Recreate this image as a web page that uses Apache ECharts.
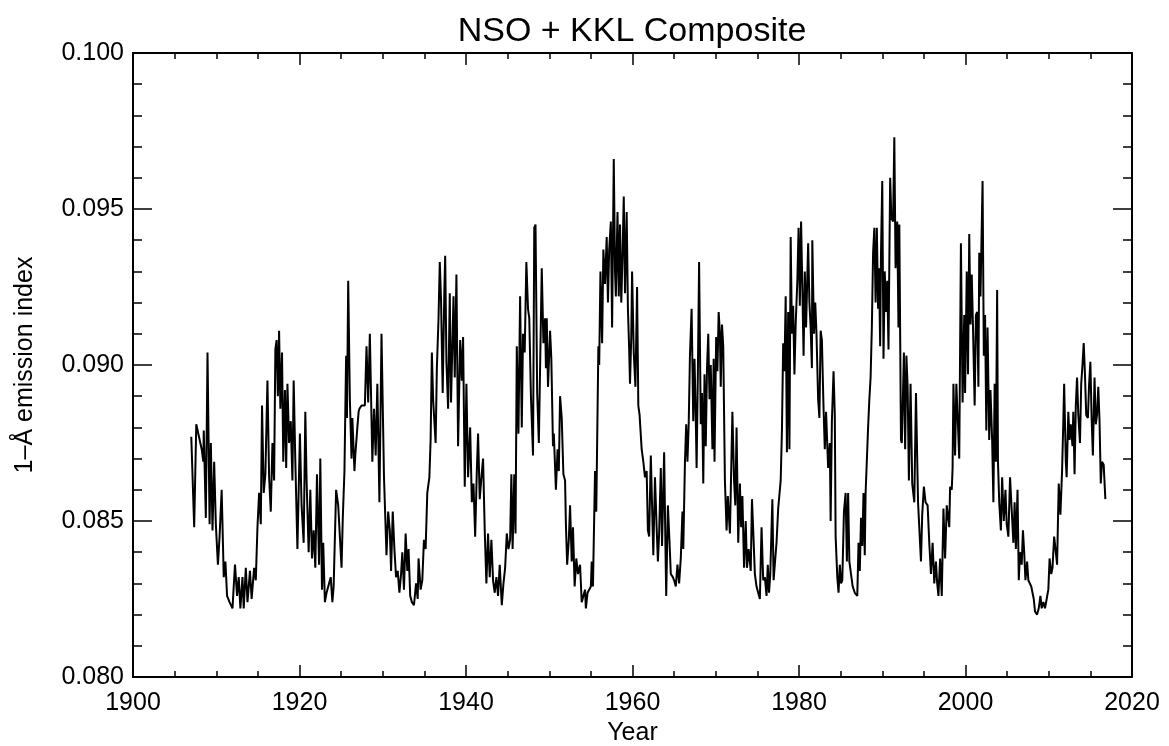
<!DOCTYPE html>
<html>
<head>
<meta charset="utf-8">
<script src="https://cdn.jsdelivr.net/npm/echarts@6/dist/echarts.min.js"></script>
<style>html,body{margin:0;padding:0;background:#fff}#c{width:1169px;height:746px}</style>
</head>
<body>
<div id="c"></div>
<script>
// Data: [year, 1-Å emission index]
const cycle15 = [[1907.0,0.0877],[1907.35,0.0848],[1907.6,0.0881],[1907.8,0.0881],[1908.25,0.0873],[1908.45,0.0869],[1908.5,0.0879],[1908.75,0.0851],[1908.95,0.0904],[1909.2,0.0849],[1909.35,0.0875],[1909.55,0.0847],[1909.75,0.0869],[1909.95,0.0849],[1910.2,0.0836],[1910.4,0.0845],[1910.65,0.0860],[1910.9,0.0832],[1911.1,0.0837],[1911.3,0.0826],[1911.6,0.0824],[1911.95,0.0822],[1912.25,0.0836],[1912.5,0.0826],[1912.7,0.0832],[1912.9,0.0822],[1913.15,0.0832],[1913.3,0.0822],[1913.55,0.0835],[1913.75,0.0824],[1914.05,0.0834],[1914.25,0.0825],[1914.55,0.0835],[1914.75,0.0831],[1914.95,0.0848],[1915.15,0.0859],[1915.35,0.0849],[1915.5,0.0887],[1915.7,0.0859],[1915.9,0.0865],[1916.15,0.0895],[1916.35,0.0864],[1916.55,0.0853],[1916.75,0.0875],[1916.95,0.0863],[1917.1,0.0905],[1917.25,0.0908],[1917.4,0.0890],[1917.55,0.0911],[1917.7,0.0886],[1917.9,0.0904],[1918.05,0.0869],[1918.25,0.0892],[1918.4,0.0867],[1918.55,0.0894],[1918.75,0.0875],[1918.95,0.0882],[1919.15,0.0863],[1919.3,0.0895],[1919.5,0.0869],[1919.75,0.0841],[1920.05,0.0878],[1920.25,0.0855],[1920.5,0.0843],[1920.7,0.0885],[1920.85,0.0863],[1921.1,0.0840],[1921.3,0.0860],[1921.5,0.0838],[1921.7,0.0847],[1921.9,0.0835],[1922.1,0.0865],[1922.35,0.0836],[1922.5,0.0870],[1922.7,0.0828],[1922.85,0.0843],[1923.05,0.0824],[1923.25,0.0827],[1923.55,0.0830],[1923.75,0.0832],[1923.95,0.0824],[1924.1,0.0829],[1924.4,0.0860],[1924.65,0.0855],[1925.05,0.0835],[1925.2,0.0851],[1925.4,0.0866],[1925.6,0.0903],[1925.7,0.0883]];
const cycle16 = [[1925.85,0.0927],[1926.05,0.0889],[1926.25,0.0870],[1926.35,0.0883],[1926.6,0.0866],[1926.7,0.0871],[1926.95,0.0880],[1927.1,0.0885],[1927.2,0.0886],[1927.45,0.0887],[1927.85,0.0887],[1928.05,0.0906],[1928.25,0.0888],[1928.45,0.0910],[1928.75,0.0869],[1928.95,0.0886],[1929.15,0.0871],[1929.35,0.0894],[1929.6,0.0856],[1929.85,0.0910],[1930.15,0.0864],[1930.45,0.0839],[1930.65,0.0853],[1930.85,0.0847],[1931.0,0.0834],[1931.2,0.0853],[1931.4,0.0841],[1931.6,0.0832],[1931.8,0.0834],[1932.0,0.0827],[1932.2,0.0833],[1932.35,0.0840],[1932.55,0.0828],[1932.75,0.0846],[1932.95,0.0834],[1933.1,0.0841],[1933.3,0.0826],[1933.5,0.0824],[1933.75,0.0823],[1934.0,0.0830],[1934.2,0.0825],[1934.3,0.0838],[1934.55,0.0828],[1934.75,0.0831],[1934.95,0.0844],[1935.15,0.0841],[1935.35,0.0859],[1935.6,0.0864],[1935.75,0.0876]];
const cycle17 = [[1935.9,0.0904],[1936.05,0.0889],[1936.25,0.0889],[1936.35,0.0875],[1936.5,0.0899],[1936.7,0.0915],[1936.85,0.0933],[1937.0,0.0921],[1937.2,0.0891],[1937.4,0.0924],[1937.5,0.0935],[1937.65,0.0901],[1937.85,0.0886],[1938.05,0.0923],[1938.2,0.0888],[1938.5,0.0922],[1938.65,0.0896],[1938.85,0.0929],[1939.05,0.0874],[1939.3,0.0908],[1939.5,0.0895],[1939.65,0.0909],[1939.85,0.0861],[1940.05,0.0894],[1940.25,0.0864],[1940.5,0.0880],[1940.7,0.0856],[1940.9,0.0862],[1941.1,0.0845],[1941.3,0.0866],[1941.45,0.0878],[1941.65,0.0857],[1941.85,0.0864],[1942.05,0.0870],[1942.25,0.0847],[1942.45,0.0830],[1942.65,0.0846],[1942.85,0.0832],[1943.05,0.0844],[1943.25,0.0831],[1943.45,0.0827],[1943.65,0.0832],[1943.85,0.0826],[1944.05,0.0836],[1944.3,0.0823],[1944.5,0.0830],[1944.7,0.0835],[1944.9,0.0846],[1945.1,0.0841],[1945.3,0.0844],[1945.45,0.0865],[1945.6,0.0841],[1945.8,0.0865],[1945.95,0.0846]];
const cycle18 = [[1946.1,0.0906],[1946.3,0.0878],[1946.5,0.0922],[1946.7,0.0880],[1946.85,0.0910],[1947.05,0.0904],[1947.25,0.0933],[1947.45,0.0918],[1947.6,0.0915],[1947.8,0.0890],[1948.05,0.0871],[1948.2,0.0944],[1948.35,0.0945],[1948.55,0.0891],[1948.75,0.0875],[1949.1,0.0931],[1949.3,0.0907],[1949.5,0.0915],[1949.6,0.0899],[1949.7,0.0915],[1949.85,0.0893],[1950.1,0.0911],[1950.25,0.0902],[1950.45,0.0874],[1950.55,0.0878],[1950.8,0.0860],[1951.0,0.0873],[1951.15,0.0866],[1951.3,0.0890],[1951.5,0.0883],[1951.7,0.0865],[1951.9,0.0863],[1952.0,0.0849],[1952.15,0.0836],[1952.35,0.0844],[1952.5,0.0855],[1952.7,0.0837],[1952.85,0.0848],[1953.05,0.0829],[1953.25,0.0838],[1953.45,0.0833],[1953.7,0.0836],[1953.9,0.0824],[1954.1,0.0824],[1954.3,0.0828],[1954.4,0.0822],[1954.6,0.0827],[1954.8,0.0827],[1955.0,0.0829],[1955.1,0.0837],[1955.25,0.0829],[1955.5,0.0866],[1955.65,0.0853]];
const cycle19 = [[1955.9,0.0906],[1956.0,0.0900],[1956.15,0.0930],[1956.35,0.0907],[1956.5,0.0937],[1956.7,0.0926],[1956.9,0.0941],[1957.05,0.0920],[1957.2,0.0937],[1957.4,0.0946],[1957.55,0.0912],[1957.75,0.0966],[1957.9,0.0930],[1958.0,0.0922],[1958.2,0.0949],[1958.35,0.0922],[1958.5,0.0945],[1958.65,0.0920],[1958.8,0.0935],[1958.95,0.0954],[1959.1,0.0923],[1959.3,0.0949],[1959.45,0.0918],[1959.6,0.0905],[1959.7,0.0894],[1959.85,0.0909],[1959.95,0.0930],[1960.15,0.0904],[1960.35,0.0893],[1960.55,0.0925],[1960.7,0.0887],[1960.85,0.0884],[1961.1,0.0873],[1961.3,0.0869],[1961.5,0.0864],[1961.7,0.0866],[1961.85,0.0847],[1962.0,0.0845],[1962.2,0.0871],[1962.35,0.0855],[1962.5,0.0839],[1962.7,0.0864],[1962.9,0.0848],[1963.05,0.0837],[1963.2,0.0846],[1963.4,0.0867],[1963.55,0.0842],[1963.8,0.0872],[1963.95,0.0843],[1964.05,0.0826],[1964.25,0.0855],[1964.45,0.0843],[1964.6,0.0833],[1964.85,0.0832],[1965.0,0.0831],[1965.2,0.0829],[1965.4,0.0836],[1965.6,0.0830],[1965.8,0.0838],[1966.0,0.0853],[1966.1,0.0841]];
const cycle20 = [[1966.3,0.0869],[1966.45,0.0881],[1966.6,0.0869],[1966.75,0.0881],[1966.9,0.0903],[1967.1,0.0918],[1967.3,0.0882],[1967.45,0.0902],[1967.6,0.0883],[1967.7,0.0867],[1967.85,0.0897],[1968.0,0.0933],[1968.2,0.0881],[1968.35,0.0891],[1968.5,0.0862],[1968.65,0.0897],[1968.8,0.0874],[1968.95,0.0899],[1969.1,0.0910],[1969.25,0.0889],[1969.4,0.0900],[1969.6,0.0873],[1969.75,0.0902],[1969.85,0.0869],[1970.05,0.0909],[1970.2,0.0898],[1970.35,0.0917],[1970.5,0.0910],[1970.6,0.0893],[1970.75,0.0913],[1970.9,0.0906],[1971.1,0.0863],[1971.3,0.0847],[1971.45,0.0858],[1971.7,0.0846],[1971.9,0.0872],[1972.0,0.0885],[1972.2,0.0863],[1972.35,0.0855],[1972.5,0.0880],[1972.7,0.0843],[1972.9,0.0862],[1973.05,0.0848],[1973.2,0.0858],[1973.4,0.0835],[1973.6,0.0850],[1973.75,0.0835],[1973.95,0.0841],[1974.2,0.0834],[1974.35,0.0857],[1974.5,0.0847],[1974.7,0.0833],[1974.9,0.0829],[1975.1,0.0827],[1975.3,0.0825],[1975.5,0.0848],[1975.7,0.0831],[1975.9,0.0832],[1976.1,0.0826],[1976.25,0.0836],[1976.4,0.0827],[1976.55,0.0833],[1976.8,0.0857],[1976.95,0.0831],[1977.15,0.0838],[1977.3,0.0843],[1977.5,0.0854],[1977.65,0.0854],[1977.8,0.0863],[1977.95,0.0879]];
const cycle21 = [[1978.1,0.0907],[1978.25,0.0898],[1978.4,0.0922],[1978.55,0.0872],[1978.7,0.0917],[1978.85,0.0873],[1979.0,0.0941],[1979.15,0.0910],[1979.3,0.0919],[1979.45,0.0897],[1979.6,0.0913],[1979.8,0.0927],[1979.95,0.0944],[1980.1,0.0919],[1980.25,0.0946],[1980.4,0.0925],[1980.55,0.0903],[1980.7,0.0930],[1980.85,0.0912],[1981.1,0.0939],[1981.25,0.0920],[1981.4,0.0912],[1981.55,0.0899],[1981.6,0.0940],[1981.8,0.0910],[1981.95,0.0920],[1982.1,0.0910],[1982.3,0.0889],[1982.45,0.0883],[1982.6,0.0911],[1982.75,0.0908],[1982.95,0.0886],[1983.1,0.0873],[1983.25,0.0885],[1983.5,0.0867],[1983.7,0.0875],[1983.8,0.0850],[1983.95,0.0882],[1984.15,0.0898],[1984.3,0.0884],[1984.4,0.0845],[1984.6,0.0832],[1984.75,0.0827],[1984.9,0.0836],[1985.05,0.0830],[1985.2,0.0831],[1985.4,0.0853],[1985.6,0.0859],[1985.75,0.0837],[1985.9,0.0859],[1986.05,0.0837],[1986.25,0.0833],[1986.45,0.0829],[1986.7,0.0827],[1987.0,0.0826],[1987.15,0.0843],[1987.3,0.0834],[1987.45,0.0851],[1987.6,0.0842],[1987.75,0.0859],[1987.9,0.0839],[1988.0,0.0859]];
const cycle22 = [[1988.3,0.0880],[1988.45,0.0889],[1988.6,0.0896],[1988.75,0.0912],[1988.9,0.0936],[1989.05,0.0944],[1989.2,0.0920],[1989.35,0.0944],[1989.5,0.0918],[1989.6,0.0931],[1989.75,0.0906],[1989.85,0.0936],[1990.0,0.0959],[1990.15,0.0902],[1990.3,0.0930],[1990.45,0.0917],[1990.6,0.0927],[1990.75,0.0905],[1990.95,0.0960],[1991.1,0.0947],[1991.3,0.0946],[1991.45,0.0973],[1991.6,0.0931],[1991.8,0.0946],[1991.95,0.0912],[1992.05,0.0945],[1992.25,0.0876],[1992.35,0.0875],[1992.45,0.0886],[1992.6,0.0904],[1992.75,0.0873],[1992.9,0.0903],[1993.05,0.0893],[1993.2,0.0863],[1993.4,0.0894],[1993.6,0.0862],[1993.85,0.0856],[1994.05,0.0891],[1994.3,0.0856],[1994.5,0.0856],[1994.65,0.0837],[1994.8,0.0852],[1995.0,0.0861],[1995.2,0.0856],[1995.45,0.0855],[1995.65,0.0843],[1995.85,0.0833],[1996.05,0.0843],[1996.25,0.0830],[1996.45,0.0837],[1996.6,0.0830],[1996.75,0.0826],[1996.95,0.0838],[1997.15,0.0826],[1997.35,0.0854],[1997.55,0.0838],[1997.75,0.0855],[1997.95,0.0855],[1998.05,0.0848],[1998.15,0.0861],[1998.35,0.0860],[1998.45,0.0867]];
const cycle23 = [[1998.55,0.0894],[1998.75,0.0871],[1998.9,0.0894],[1999.1,0.0894],[1999.25,0.0870],[1999.45,0.0939],[1999.65,0.0888],[1999.85,0.0916],[1999.95,0.0891],[2000.15,0.0930],[2000.3,0.0897],[2000.45,0.0942],[2000.6,0.0913],[2000.75,0.0929],[2000.9,0.0912],[2001.1,0.0887],[2001.25,0.0916],[2001.4,0.0917],[2001.55,0.0893],[2001.65,0.0936],[2001.8,0.0922],[2002.05,0.0959],[2002.2,0.0903],[2002.35,0.0916],[2002.5,0.0879],[2002.65,0.0912],[2002.85,0.0876],[2003.0,0.0892],[2003.2,0.0876],[2003.35,0.0856],[2003.5,0.0894],[2003.65,0.0869],[2003.8,0.0924],[2003.9,0.0869],[2004.05,0.0856],[2004.25,0.0847],[2004.4,0.0864],[2004.6,0.0850],[2004.8,0.0860],[2004.95,0.0849],[2005.15,0.0845],[2005.35,0.0864],[2005.55,0.0864],[2005.75,0.0843],[2005.9,0.0856],[2006.05,0.0841],[2006.25,0.0860],[2006.4,0.0831],[2006.55,0.0840],[2006.75,0.0836],[2006.9,0.0847],[2007.05,0.0840],[2007.2,0.0831],[2007.4,0.0837],[2007.55,0.0831],[2007.75,0.0831],[2007.9,0.0829],[2008.05,0.0827],[2008.2,0.0825],[2008.35,0.0821],[2008.6,0.0820],[2008.8,0.0822],[2009.0,0.0826],[2009.15,0.0822],[2009.35,0.0824],[2009.55,0.0822],[2009.75,0.0825],[2009.95,0.0828]];
const cycle24 = [[2010.1,0.0838],[2010.3,0.0833],[2010.45,0.0835],[2010.65,0.0845],[2010.85,0.0840],[2011.0,0.0836],[2011.2,0.0862],[2011.4,0.0852],[2011.6,0.0866],[2011.75,0.0882],[2011.85,0.0894],[2012.05,0.0869],[2012.15,0.0864],[2012.35,0.0885],[2012.5,0.0876],[2012.65,0.0881],[2012.85,0.0874],[2012.95,0.0885],[2013.1,0.0865],[2013.25,0.0887],[2013.4,0.0896],[2013.55,0.0884],[2013.75,0.0875],[2013.9,0.0894],[2014.05,0.0900],[2014.2,0.0907],[2014.35,0.0897],[2014.5,0.0884],[2014.7,0.0883],[2014.85,0.0894],[2015.0,0.0901],[2015.15,0.0883],[2015.3,0.0871],[2015.5,0.0896],[2015.65,0.0881],[2015.8,0.0884],[2015.95,0.0893],[2016.1,0.0882],[2016.25,0.0862],[2016.4,0.0869],[2016.6,0.0868],[2016.8,0.0857]];

const xTicks = { min: 1900, max: 2020, interval: 20 };
const yTicks = { min: 0.080, max: 0.100, interval: 0.005 };
const titleText = 'NSO + KKL Composite';
const xName = 'Year';
const yName = '1\u2013\u00C5 emission index';

const series = [].concat(cycle15, cycle16, cycle17, cycle18, cycle19, cycle20, cycle21, cycle22, cycle23, cycle24);

const FONT = '"Liberation Sans", Arial, Helvetica, sans-serif';
const chart = echarts.init(document.getElementById('c'), null, { renderer: 'canvas' });

function xAxisDef(pos, showLabels) {
  return {
    type: 'value', position: pos, min: xTicks.min, max: xTicks.max, interval: xTicks.interval,
    name: showLabels ? xName : '', nameLocation: 'middle', nameGap: 43,
    nameTextStyle: { fontFamily: FONT, fontSize: 25, color: '#000' },
    axisLine: { show: true, onZero: false, lineStyle: { color: '#000', width: 2 } },
    axisTick: { show: true, inside: true, length: 12, lineStyle: { color: '#000', width: 1.5 } },
    minorTick: { show: true, splitNumber: 4, length: 6, lineStyle: { color: '#000', width: 1.5 } },
    splitLine: { show: false }, minorSplitLine: { show: false },
    axisLabel: { show: showLabels, fontFamily: FONT, fontSize: 25, color: '#000', margin: 14,
      formatter: v => String(Math.round(v)) }
  };
}
function yAxisDef(pos, showLabels) {
  return {
    type: 'value', position: pos, min: yTicks.min, max: yTicks.max, interval: yTicks.interval,
    name: showLabels ? yName : '', nameLocation: 'middle', nameGap: 95, nameRotate: 90,
    nameTextStyle: { fontFamily: FONT, fontSize: 25, color: '#000' },
    axisLine: { show: true, onZero: false, lineStyle: { color: '#000', width: 2 } },
    axisTick: { show: true, inside: true, length: 19, lineStyle: { color: '#000', width: 1.5 } },
    minorTick: { show: true, splitNumber: 5, length: 9, lineStyle: { color: '#000', width: 1.5 } },
    splitLine: { show: false }, minorSplitLine: { show: false },
    axisLabel: { show: showLabels, fontFamily: FONT, fontSize: 25, color: '#000', margin: 9,
      formatter: v => v.toFixed(3) }
  };
}

chart.setOption({
  animation: false,
  backgroundColor: '#fff',
  grid: { left: 133, right: 37, top: 53, bottom: 69, containLabel: false, outerBoundsMode: 'none' },
  graphic: [{
    type: 'text', x: 632, y: 15,
    style: { text: titleText, font: '34px ' + FONT, fill: '#000', textAlign: 'center', textVerticalAlign: 'top' }
  }],
  xAxis: [xAxisDef('bottom', true), xAxisDef('top', false)],
  yAxis: [yAxisDef('left', true), yAxisDef('right', false)],
  series: [{
    type: 'line', data: series, xAxisIndex: 0, yAxisIndex: 0,
    showSymbol: false, symbol: 'none',
    lineStyle: { color: '#000', width: 2 }, silent: true
  }]
});
</script>
</body>
</html>
